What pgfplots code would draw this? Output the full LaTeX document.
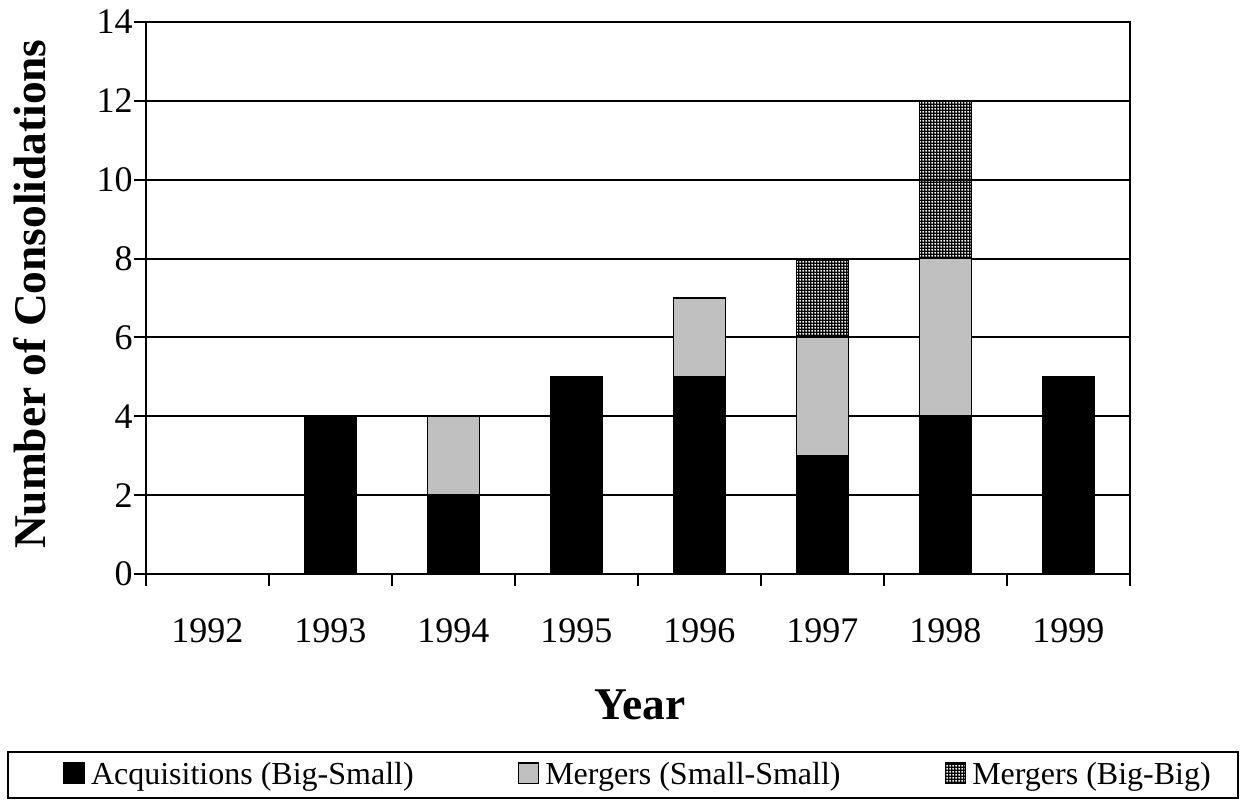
\documentclass[border=0pt]{standalone}
\usepackage{fontspec}
\setmainfont{Liberation Serif}
\usepackage{pgfplots}
\pgfplotsset{compat=1.18}
\usetikzlibrary{patterns}
\pgfdeclarepatternformonly{finegrid}{\pgfpoint{-0.1pt}{-0.1pt}}{\pgfpoint{1.6pt}{1.6pt}}{\pgfpoint{1.5pt}{1.5pt}}{%
  \pgfpathrectangle{\pgfpointorigin}{\pgfpoint{1.5pt}{0.65pt}}%
  \pgfpathrectangle{\pgfpointorigin}{\pgfpoint{0.65pt}{1.5pt}}%
  \pgfusepath{fill}}
\definecolor{silvergray}{RGB}{192,192,192}
\begin{document}
\begin{tikzpicture}
\useasboundingbox (-73pt,-113.5pt) rectangle (548.5pt,287pt);
\begin{axis}[
  at={(0,0)}, anchor=south west,
  scale only axis, width=492pt, height=276pt,
  ybar stacked, bar width=26pt,
  xmin=-0.5, xmax=7.5, ymin=0, ymax=14,
  ytick={0,2,...,14},
  xtick={-0.5,0.5,...,7.5}, xticklabels={},
  extra x ticks={0,1,2,3,4,5,6,7},
  extra x tick labels={1992,1993,1994,1995,1996,1997,1998,1999},
  extra x tick style={major tick length=0pt, grid=none,
    xticklabel style={inner ysep=0pt, yshift=-22pt}},
  xtick pos=bottom, ytick pos=left,
  tick align=outside, major tick length=6pt,
  tick style={line width=1pt, black},
  axis line style={line width=1pt},
  ymajorgrids, major grid style={line width=1pt, black},
  /pgf/number format/assume math mode=true,
  tick label style={font=\fontsize{18}{20}\selectfont},
  yticklabel style={inner xsep=0.5pt},
  xlabel={\textbf{Year}}, ylabel={\textbf{Number of Consolidations}},
  label style={font=\fontsize{22.7}{25}\selectfont},
  xlabel style={at={(axis description cs:0.502,-0.2373)}, anchor=center},
  ylabel style={at={(axis description cs:-0.1179,0.507)}, anchor=center},
  legend columns=3,
  legend image code/.code={\draw[#1, line width=0.8pt] (0pt,-4.3pt) rectangle (10pt,6pt);},
  legend style={at={(axis description cs:-0.0843,-0.3641)}, anchor=west,
    draw=none, fill=none, inner xsep=0pt, inner ysep=0pt,
    font=\fontsize{16}{18}\selectfont,
    nodes={inner xsep=3pt},
    /tikz/every even column/.append style={column sep=49pt}},
]
\addplot[fill=black, draw=black, line width=0.8pt] coordinates {(0,0) (1,4) (2,2) (3,5) (4,5) (5,3) (6,4) (7,5)};
\addplot[fill=silvergray, draw=black, line width=0.8pt] coordinates {(0,0) (1,0) (2,2) (3,0) (4,2) (5,3) (6,4) (7,0)};
\addplot[pattern=finegrid, pattern color=black, draw=black, line width=0.8pt] coordinates {(0,0) (1,0) (2,0) (3,0) (4,0) (5,2) (6,4) (7,0)};
\legend{Acquisitions (Big-Small), Mergers (Small-Small), Mergers (Big-Big)}
\end{axis}
\draw[line width=1pt] (-69pt,-89pt) rectangle (546pt,-112pt);
\end{tikzpicture}
\end{document}
